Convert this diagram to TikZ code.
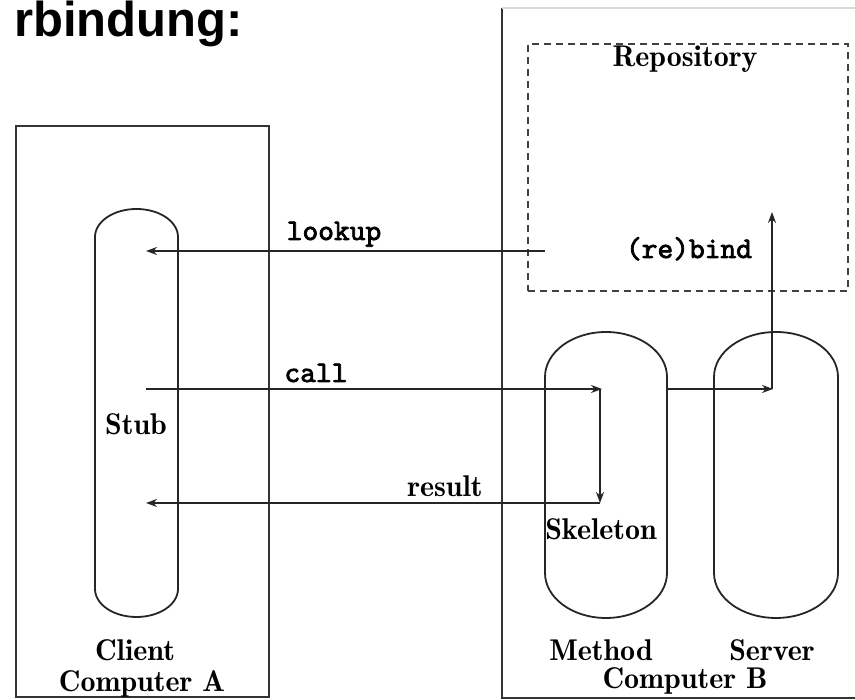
\documentclass[tikz,border=0pt]{standalone}
\usepackage{fontspec}
\newfontfamily\titlefont{Liberation Sans}
\newfontfamily\demifont{lmromandemi10-regular.otf}
\newfontfamily\ttboldfont[FakeBold=2.5]{lmmono10-regular.otf}
\usetikzlibrary{arrows.meta}
\tikzset{
  box/.style={draw=black!80, line width=1.8pt},
  pill/.style={draw=black!85, line width=1.8pt},
  conn/.style={draw=black!85, line width=1.8pt, -{Stealth[length=11pt,width=8pt]}},
  repo/.style={draw=black!75, line width=1.8pt, dash pattern=on 7pt off 5pt},
  lbl/.style={inner sep=0pt, anchor=base, font=\demifont\fontsize{30}{36}\selectfont},
  ttlbl/.style={inner sep=0pt, anchor=base, font=\ttboldfont\fontsize{30}{36}\selectfont},
  anchorbox/.style={draw=none, inner sep=0pt}
}
\begin{document}
\begin{tikzpicture}[x=1pt,y=1pt]
\useasboundingbox (0,0) rectangle (855,700);
% title
\node[inner sep=0pt, anchor=base east, font=\titlefont\bfseries\fontsize{49}{56}\selectfont] (title) at (243,663) {rbindung:};
% computer A box
\node[box, minimum width=253pt, minimum height=571pt, anchor=south west] (compA) at (15,2) {};
% computer B box (open to the right)
\draw[box] (855,2) -- (502,2) -- (502,692);
\draw[draw=black!15, line width=1.8pt] (502,692) -- (855,692);
% repository
\node[repo, minimum width=320pt, minimum height=247pt, anchor=south west] (repo) at (527,408) {};
% pill anchors (named)
\node[anchorbox, minimum width=83pt, minimum height=408pt] (stub) at (136.5,287) {};
\node[anchorbox, minimum width=122pt, minimum height=286pt] (skel) at (606,225) {};
\node[anchorbox, minimum width=124pt, minimum height=286pt] (server) at (776,225) {};
% pills
\draw[pill] (95,463) -- (95,111) arc[start angle=180,end angle=360,x radius=41.5,y radius=28]
  -- (178,463) arc[start angle=0,end angle=180,x radius=41.5,y radius=28] -- cycle;
\draw[pill] (545,323) -- (545,127) arc[start angle=180,end angle=360,x radius=61,y radius=45]
  -- (667,323) arc[start angle=0,end angle=180,x radius=61,y radius=45] -- cycle;
\draw[pill] (714,323) -- (714,127) arc[start angle=180,end angle=360,x radius=62,y radius=45]
  -- (838,323) arc[start angle=0,end angle=180,x radius=62,y radius=45] -- cycle;
% connector end points
\coordinate (lkS) at (545,449);
\coordinate (lkE) at (146,449);
\coordinate (caS) at (146,311);
\coordinate (caE) at (602,311);
\coordinate (skTop) at (600,311);
\coordinate (skBot) at (600,197);
\coordinate (reE) at (146,197);
\coordinate (skR) at (667,311);
\coordinate (svE) at (773,311);
\coordinate (svTop) at (772,311);
\coordinate (svUp) at (772,488);
% connectors
\draw[conn] (lkS) -- (lkE);
\draw[conn] (caS) -- (caE);
\draw[conn] (skTop) -- (skBot);
\draw[conn] (skBot) -- (reE);
\draw[conn] (skR) -- (svE);
\draw[conn] (svTop) -- (svUp);
% labels
\node[ttlbl] (lookup) at (334,460) {lookup};
\node[ttlbl] (call) at (316,318) {call};
\node[lbl] (result) at (445,203) {result};
\node[ttlbl] (rebind) at (689,442) {(re)bind};
\node[lbl] (repolbl) at (685,633) {Repository};
\node[lbl] (stublbl) at (136,265) {Stub};
\node[lbl] (skellbl) at (601,160) {Skeleton};
\node[lbl] (client) at (135,39) {Client};
\node[lbl] (compAlbl) at (142,8) {Computer A};
\node[lbl] (method) at (601,39) {Method};
\node[lbl] (serverlbl) at (772,39) {Server};
\node[lbl] (compBlbl) at (685,11) {Computer B};
\end{tikzpicture}
\end{document}
